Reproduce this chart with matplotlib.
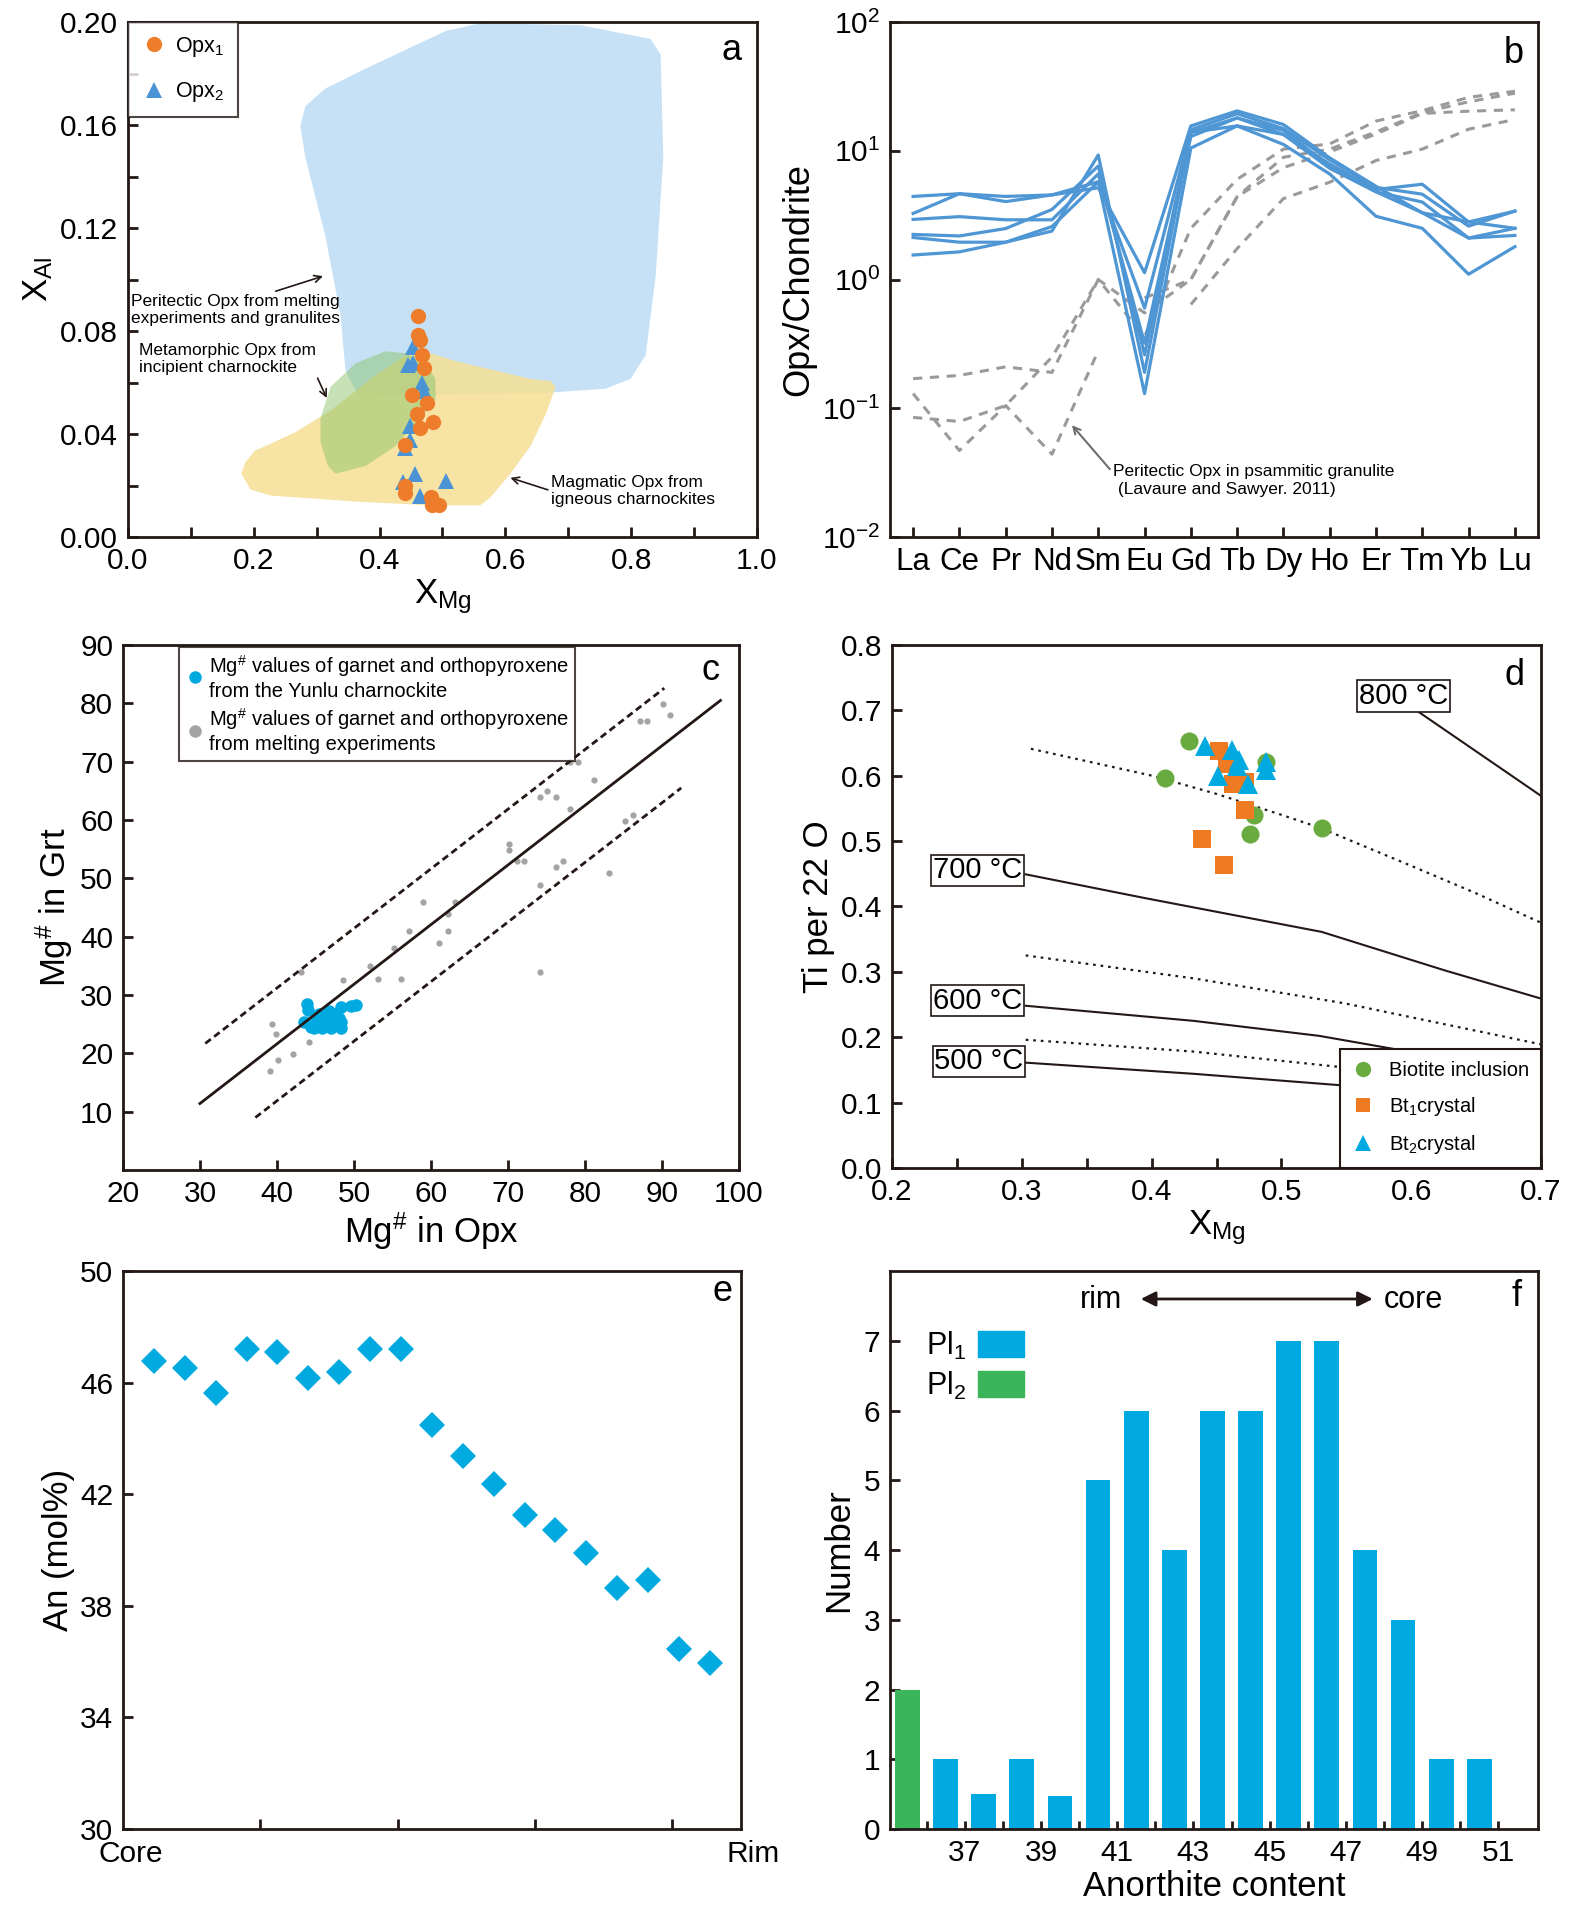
import matplotlib
matplotlib.use('Agg')
import matplotlib.pyplot as plt
import numpy as np
from matplotlib import font_manager
from matplotlib.patches import Polygon, Patch
from matplotlib.lines import Line2D

names = {f.name for f in font_manager.fontManager.ttflist}
NARROW = 'Liberation Sans Narrow' if 'Liberation Sans Narrow' in names else 'Liberation Sans'
plt.rcParams['font.family'] = ['Liberation Sans', 'DejaVu Sans']
plt.rcParams['mathtext.fontset'] = 'custom'
plt.rcParams['mathtext.rm'] = 'Liberation Sans'
plt.rcParams['mathtext.it'] = 'Liberation Sans:italic'
plt.rcParams['mathtext.bf'] = 'Liberation Sans:bold'

# ---------------- panel a : X_Al vs X_Mg ----------------
peritectic_x = [0.282, 0.314, 0.378, 0.505, 0.560, 0.719, 0.831, 0.847, 0.851, 0.839, 0.823,
                0.799, 0.759, 0.664, 0.497, 0.425, 0.362, 0.346, 0.338, 0.314, 0.282, 0.274]
peritectic_y = [0.1673, 0.1742, 0.1819, 0.1965, 0.1995, 0.1988, 0.1934, 0.1873, 0.1474, 0.1013, 0.0706,
                0.0614, 0.0576, 0.0560, 0.0553, 0.0545, 0.0568, 0.0645, 0.0860, 0.1167, 0.1474, 0.1597]
magmatic_x = [0.203, 0.187, 0.180, 0.195, 0.227, 0.362, 0.481, 0.560, 0.576, 0.608, 0.640,
              0.664, 0.680, 0.672, 0.640, 0.521, 0.481, 0.441, 0.386, 0.322, 0.266, 0.211]
magmatic_y = [0.0338, 0.0292, 0.0246, 0.0184, 0.0161, 0.0138, 0.0123, 0.0123, 0.0153, 0.0246, 0.0353,
              0.0476, 0.0583, 0.0606, 0.0614, 0.0683, 0.0714, 0.0706, 0.0614, 0.0491, 0.0407, 0.0345]
metamorphic_x = [0.306, 0.322, 0.362, 0.409, 0.441, 0.473, 0.489, 0.489, 0.465, 0.425, 0.378,
                 0.330, 0.318, 0.306]
metamorphic_y = [0.0461, 0.0583, 0.0675, 0.0721, 0.0714, 0.0675, 0.0614, 0.0537, 0.0460, 0.0353,
                 0.0276, 0.0246, 0.0276, 0.0368]

opx1_xmg = [0.461, 0.461, 0.465, 0.467, 0.470, 0.451, 0.475, 0.459, 0.485, 0.465, 0.441,
            0.440, 0.440, 0.481, 0.483, 0.495]
opx1_xal = [0.0860, 0.0786, 0.0767, 0.0706, 0.0657, 0.0553, 0.0519, 0.0476, 0.0445, 0.0422, 0.0356,
            0.0200, 0.0172, 0.0157, 0.0123, 0.0123]
opx2_xmg = [0.453, 0.445, 0.453, 0.467, 0.470, 0.448, 0.449, 0.441, 0.437, 0.457, 0.505, 0.465]
opx2_xal = [0.0737, 0.0668, 0.0675, 0.0599, 0.0568, 0.0430, 0.0376, 0.0345, 0.0215, 0.0246,
            0.0218, 0.0161]

# ---------------- panel b : REE patterns ----------------
ree = ['La', 'Ce', 'Pr', 'Nd', 'Sm', 'Eu', 'Gd', 'Tb', 'Dy', 'Ho', 'Er', 'Tm', 'Yb', 'Lu']
opx_ree = [
    [4.42, 4.64, 4.42, 4.54, 5.16, 1.13, 15.6, 20.4, 16.0, 8.8, 5.3, 3.3, 2.8, 2.5],
    [3.26, 4.64, 4.03, 4.54, 5.74, 0.60, 14.6, 19.4, 14.9, 8.5, 5.2, 4.6, 2.6, 3.4],
    [2.93, 3.08, 2.91, 2.91, 6.61, 0.32, 13.9, 18.0, 13.4, 7.9, 5.0, 5.5, 2.8, 3.4],
    [2.24, 2.18, 2.49, 3.50, 7.61, 0.26, 12.9, 18.0, 14.4, 7.6, 4.8, 3.3, 2.1, 2.2],
    [2.12, 1.95, 1.95, 2.38, 9.27, 0.19, 13.9, 15.6, 13.4, 7.3, 4.8, 4.0, 2.1, 2.5],
    [1.55, 1.64, 1.95, 2.58, 5.74, 0.13, 10.5, 15.6, 11.2, 6.6, 3.1, 2.5, 1.1, 1.8],
]
nan = np.nan
lit_ree = [
    [0.17, 0.18, 0.21, 0.19, 1.00, 0.36, 2.5, 6.0, 10.3, 11.3, 17.0, 20.5, 26.0, 29.0],
    [0.085, 0.079, 0.105, 0.25, 1.00, 0.55, 1.0, 4.4, 8.9, 10.3, 14.0, 19.8, 24.0, 28.0],
    [0.13, 0.047, 0.105, 0.044, 0.28, nan, nan, nan, nan, nan, nan, nan, nan, nan],
    [nan, nan, nan, nan, nan, 0.72, 1.0, 4.4, 7.4, 9.8, 13.5, 19.5, 20.3, 20.8],
    [nan, nan, nan, nan, nan, nan, 0.64, 1.74, 4.25, 5.7, 8.4, 10.3, 14.7, 17.5],
]

# ---------------- panel c : Mg# Grt vs Opx ----------------
yunlu_opx = [43.85, 44.0, 43.5, 44.4, 45.1, 45.8, 46.4, 46.7, 47.3, 47.7, 48.3, 48.3, 48.3,
             49.6, 50.3, 44.8, 46.1, 45.4, 47.0, 48.0]
yunlu_grt = [28.4, 27.4, 25.3, 24.6, 25.6, 24.3, 26.0, 27.2, 25.0, 26.7, 24.3, 25.3, 27.9,
             28.1, 28.3, 24.3, 25.3, 26.7, 24.3, 26.0]
exp_opx = [39.4, 39.9, 39.1, 40.2, 42.1, 43.1, 44.2, 48.6, 52.1, 53.1, 55.2, 56.1, 57.1, 59.0,
           61.1, 62.2, 62.2, 63.1, 70.1, 70.1, 71.2, 72.1, 74.2, 74.2, 74.2, 75.1, 76.2, 76.2,
           77.1, 78.1, 79.1, 78.1, 81.2, 83.1, 85.2, 86.2, 87.1, 88.1, 90.1, 91.1]
exp_grt = [25.1, 23.3, 17.0, 18.8, 19.9, 34.0, 21.9, 32.6, 35.0, 32.8, 38.0, 32.8, 40.9, 45.9,
           38.9, 40.9, 43.9, 45.9, 55.9, 54.9, 53.0, 53.0, 63.9, 48.9, 34.0, 64.9, 63.9, 51.9,
           53.0, 69.9, 69.9, 61.9, 66.9, 50.9, 59.9, 60.9, 77.0, 77.0, 79.9, 78.0]
fit_x, fit_y = [30.0, 97.6], [11.4, 80.5]
upper_x, upper_y = [30.7, 90.3], [21.7, 82.6]
lower_x, lower_y = [37.2, 92.5], [9.0, 65.5]

# ---------------- panel d : Ti vs X_Mg in biotite ----------------
iso800_x, iso800_y = [0.606, 0.70], [0.697, 0.569]
dot_hi_x = [0.307, 0.40, 0.45, 0.50, 0.53, 0.60, 0.65, 0.70]
dot_hi_y = [0.641, 0.600, 0.572, 0.540, 0.520, 0.462, 0.420, 0.375]
iso700_x = [0.303, 0.394, 0.531, 0.626, 0.70]
iso700_y = [0.449, 0.413, 0.361, 0.302, 0.259]
dot_mid_x = [0.303, 0.432, 0.548, 0.70]
dot_mid_y = [0.325, 0.290, 0.252, 0.189]
iso600_x = [0.303, 0.432, 0.529, 0.641, 0.70]
iso600_y = [0.248, 0.225, 0.202, 0.163, 0.140]
dot_lo_x = [0.303, 0.432, 0.542, 0.62]
dot_lo_y = [0.196, 0.178, 0.155, 0.145]
iso500_x = [0.303, 0.432, 0.542, 0.62]
iso500_y = [0.161, 0.144, 0.127, 0.118]
iso_labels = ['800 °C', '700 °C', '600 °C', '500 °C']
iso_label_x = [0.594, 0.266, 0.266, 0.267]
iso_label_y = [0.722, 0.455, 0.256, 0.163]

incl_xmg = [0.429, 0.410, 0.488, 0.479, 0.476, 0.531]
incl_ti = [0.653, 0.597, 0.621, 0.540, 0.511, 0.520]
bt1_xmg = [0.452, 0.458, 0.463, 0.472, 0.472, 0.439, 0.456]
bt1_ti = [0.637, 0.618, 0.587, 0.590, 0.548, 0.503, 0.463]
bt2_xmg = [0.441, 0.462, 0.467, 0.466, 0.451, 0.474, 0.488, 0.488]
bt2_ti = [0.645, 0.639, 0.624, 0.614, 0.600, 0.587, 0.621, 0.608]

# ---------------- panel e : An profile ----------------
an_profile = [46.79, 46.52, 45.62, 47.22, 47.09, 46.17, 46.40, 47.22, 47.22, 44.50,
              43.36, 42.35, 41.27, 40.73, 39.90, 38.64, 38.92, 36.46, 35.96]

# ---------------- panel f : histogram ----------------
an_bins = [35.5, 36.5, 37.5, 38.5, 39.5, 40.5, 41.5, 42.5, 43.5, 44.5, 45.5, 46.5, 47.5,
           48.5, 49.5, 50.5]
pl1_count = [0, 1, 0.5, 1, 0.48, 5, 6, 4, 6, 6, 7, 7, 4, 3, 1, 1]
pl2_count = [2, 0, 0, 0, 0, 0, 0, 0, 0, 0, 0, 0, 0, 0, 0, 0]

C_ORANGE = '#ee7d2b'
C_BLUE_A = '#4a94d6'
C_CYAN = '#00a9e0'
C_GREEN = '#6aab3f'
C_REE = '#4f96d5'
C_GRAY = '#9a9a9a'
C_INK = '#231815'

TICK = 21.5
LAB = 25


def style(ax):
    for s in ax.spines.values():
        s.set_linewidth(2)
        s.set_color(C_INK)
    ax.tick_params(which='both', direction='in', length=7, width=2, labelsize=TICK,
                   top=False, right=False, pad=7, color=C_INK)


fig = plt.figure(figsize=(15.76, 19.14), dpi=100)
ax_a = fig.add_axes([0.0812, 0.7194, 0.3991, 0.2691])
ax_b = fig.add_axes([0.5647, 0.7194, 0.4112, 0.2691])
ax_c = fig.add_axes([0.0780, 0.3887, 0.3909, 0.2743])
ax_d = fig.add_axes([0.5660, 0.3898, 0.4118, 0.2733])
ax_e = fig.add_axes([0.0780, 0.0444, 0.3921, 0.2915])
ax_f = fig.add_axes([0.5647, 0.0444, 0.4112, 0.2915])

# ---- a ----
ax = ax_a
ax.add_patch(Polygon(np.column_stack([peritectic_x, peritectic_y]), closed=True,
                     facecolor='#c6e1f5', edgecolor='none', zorder=1))
ax.add_patch(Polygon(np.column_stack([magmatic_x, magmatic_y]), closed=True,
                     facecolor='#f6df94', edgecolor='none', alpha=0.85, zorder=2))
ax.add_patch(Polygon(np.column_stack([metamorphic_x, metamorphic_y]), closed=True,
                     facecolor='#8cc56c', edgecolor='none', alpha=0.5, zorder=3))
ax.plot(opx1_xmg, opx1_xal, 'o', ms=11, color=C_ORANGE, mew=0, zorder=5, label='Opx$_1$')
ax.plot(opx2_xmg, opx2_xal, '^', ms=11.5, color=C_BLUE_A, mew=0, zorder=4, label='Opx$_2$')
ax.set_xlim(0, 1)
ax.set_ylim(0, 0.2)
ax.set_xticks(np.arange(0, 1.01, 0.2))
ax.set_xticks(np.arange(0.1, 1.0, 0.2), minor=True)
ax.set_yticks(np.arange(0, 0.201, 0.04))
ax.set_yticks(np.arange(0.02, 0.2, 0.04), minor=True)
ax.xaxis.set_major_formatter(matplotlib.ticker.FormatStrFormatter('%.1f'))
ax.yaxis.set_major_formatter(matplotlib.ticker.FormatStrFormatter('%.2f'))
style(ax)
ax.set_xlabel(r'X$_{\mathrm{Mg}}$', fontsize=LAB, labelpad=2)
ax.set_ylabel(r'X$_{\mathrm{Al}}$', fontsize=LAB, labelpad=4)
leg = ax.legend(loc='upper left', bbox_to_anchor=(0, 1), borderaxespad=0, fontsize=15.5,
                fancybox=False, edgecolor=C_INK, handletextpad=0.4, labelspacing=1.0,
                borderpad=0.6, handlelength=1.2)
leg.get_frame().set_linewidth(1.5)
ax.annotate('Peritectic Opx from melting\nexperiments and granulites', xy=(0.310, 0.1013),
            xytext=(0.005, 0.0881), fontsize=12.5, family=NARROW, va='center', ha='left',
            arrowprops=dict(arrowstyle='->', color=C_INK, lw=1.2, shrinkA=0, shrinkB=0,
                            relpos=(0.65, 1.0)))
ax.annotate('Metamorphic Opx from\nincipient charnockite', xy=(0.316, 0.0540),
            xytext=(0.018, 0.0691), fontsize=12.5, family=NARROW, va='center', ha='left',
            arrowprops=dict(arrowstyle='->', color=C_INK, lw=1.2, shrinkA=0, shrinkB=0,
                            relpos=(1.0, 0.0)))
ax.annotate('Magmatic Opx from\nigneous charnockites', xy=(0.608, 0.0230),
            xytext=(0.672, 0.0180), fontsize=12.5, family=NARROW, va='center', ha='left',
            arrowprops=dict(arrowstyle='->', color=C_INK, lw=1.2, shrinkA=0, shrinkB=0,
                            relpos=(0.0, 0.5)))
ax.text(0.96, 0.944, 'a', transform=ax.transAxes, fontsize=26, ha='center', va='center')

# ---- b ----
ax = ax_b
xi = np.arange(len(ree))
for row in lit_ree:
    ax.plot(xi, row, color=C_GRAY, lw=2.2, ls=(0, (3, 2.5)), zorder=2)
for row in opx_ree:
    ax.plot(xi, row, color=C_REE, lw=2.3, zorder=3)
ax.set_yscale('log')
ax.set_ylim(1e-2, 1e2)
ax.set_xlim(-0.5, 13.5)
ax.set_xticks(xi)
ax.set_xticklabels(ree)
ax.set_yticks([1e-2, 1e-1, 1, 10, 100])
ax.set_yticklabels([r'10$^{-2}$', r'10$^{-1}$', r'10$^{0}$', r'10$^{1}$', r'10$^{2}$'])
ax.yaxis.set_minor_locator(matplotlib.ticker.NullLocator())
style(ax)
ax.tick_params(axis='x', labelsize=22.5)
ax.set_ylabel('Opx/Chondrite', fontsize=26, labelpad=4)
ax.annotate('Peritectic Opx in psammitic granulite\n (Lavaure and Sawyer. 2011)',
            xy=(3.43, 0.074), xytext=(4.31, 0.0275), fontsize=12.5, family=NARROW,
            va='center', ha='left',
            arrowprops=dict(arrowstyle='->', color='#6d6d6d', lw=1.5, shrinkA=0, shrinkB=0,
                            relpos=(0.0, 0.75)))
ax.text(0.963, 0.939, 'b', transform=ax.transAxes, fontsize=26, ha='center', va='center')

# ---- c ----
ax = ax_c
ax.plot(exp_opx, exp_grt, 'o', ms=4.5, color='#a3a3a3', mew=0, zorder=2)
ax.plot(yunlu_opx, yunlu_grt, 'o', ms=9, color=C_CYAN, mew=0, zorder=3)
ax.plot(fit_x, fit_y, color=C_INK, lw=2, zorder=4)
ax.plot(upper_x, upper_y, color=C_INK, lw=2, ls=(0, (2.5, 1.5)), zorder=4)
ax.plot(lower_x, lower_y, color=C_INK, lw=2, ls=(0, (2.5, 1.5)), zorder=4)
ax.set_xlim(20, 100)
ax.set_ylim(0, 90)
ax.set_xticks(np.arange(20, 101, 10))
ax.set_yticks(np.arange(10, 91, 10))
style(ax)
ax.set_xlabel(r'Mg$^{\#}$ in Opx', fontsize=LAB, labelpad=2)
ax.set_ylabel(r'Mg$^{\#}$ in Grt', fontsize=LAB, labelpad=4)
handles = [Line2D([], [], ls='none', marker='o', ms=9, color=C_CYAN, mew=0),
           Line2D([], [], ls='none', marker='o', ms=9, color='#a3a3a3', mew=0)]
leg = ax.legend(handles, [r'Mg$^{\#}$ values of garnet and orthopyroxene' + '\nfrom the Yunlu charnockite',
                          r'Mg$^{\#}$ values of garnet and orthopyroxene' + '\nfrom melting experiments'],
                loc='upper left', bbox_to_anchor=(0.091, 0.997), borderaxespad=0,
                fancybox=False, edgecolor=C_INK, handletextpad=0.2, handlelength=1.0,
                labelspacing=0.3, borderpad=0.3, prop={'family': NARROW, 'size': 14.5})
leg.get_frame().set_linewidth(1.5)
ax.text(0.954, 0.951, 'c', transform=ax.transAxes, fontsize=26, ha='center', va='center')

# ---- d ----
ax = ax_d
dot = (0, (1.2, 2.2))
ax.plot(iso800_x, iso800_y, color=C_INK, lw=1.5)
ax.plot(dot_hi_x, dot_hi_y, color=C_INK, lw=1.6, ls=dot)
ax.plot(iso700_x, iso700_y, color=C_INK, lw=1.5)
ax.plot(dot_mid_x, dot_mid_y, color=C_INK, lw=1.6, ls=dot)
ax.plot(iso600_x, iso600_y, color=C_INK, lw=1.5)
ax.plot(dot_lo_x, dot_lo_y, color=C_INK, lw=1.6, ls=dot)
ax.plot(iso500_x, iso500_y, color=C_INK, lw=1.5)
for lab, lx, ly in zip(iso_labels, iso_label_x, iso_label_y):
    ax.text(lx, ly, lab, fontsize=21, ha='center', va='center',
            bbox=dict(boxstyle='square,pad=0.06', facecolor='white', edgecolor=C_INK, lw=1.2))
ax.plot(incl_xmg, incl_ti, 'o', ms=13, color=C_GREEN, mew=0, zorder=5, label='Biotite inclusion')
ax.plot(bt1_xmg, bt1_ti, 's', ms=12.5, color='#ee7b22', mew=0, zorder=6, label='Bt$_1$crystal')
ax.plot(bt2_xmg, bt2_ti, '^', ms=14, color=C_CYAN, mew=0, zorder=7, label='Bt$_2$crystal')
ax.set_xlim(0.2, 0.7)
ax.set_ylim(0, 0.8)
ax.set_xticks(np.arange(0.2, 0.71, 0.1))
ax.set_xticks(np.arange(0.25, 0.7, 0.1), minor=True)
ax.set_yticks(np.arange(0, 0.81, 0.1))
ax.xaxis.set_major_formatter(matplotlib.ticker.FormatStrFormatter('%.1f'))
ax.yaxis.set_major_formatter(matplotlib.ticker.FormatStrFormatter('%.1f'))
style(ax)
ax.set_xlabel(r'X$_{\mathrm{Mg}}$', fontsize=LAB, labelpad=2)
ax.set_ylabel('Ti per 22 O', fontsize=LAB, labelpad=4)
leg = ax.legend(loc='lower right', borderaxespad=0, fancybox=False, framealpha=1,
                edgecolor=C_INK, handlelength=1.0, handletextpad=0.8, labelspacing=0.75,
                borderpad=0.6, prop={'family': NARROW, 'size': 14.5}, markerscale=0.85)
leg.get_frame().set_linewidth(1.5)
leg.set_zorder(10)
ax.text(0.959, 0.942, 'd', transform=ax.transAxes, fontsize=26, ha='center', va='center')

# ---- e ----
ax = ax_e
pos = np.arange(1, len(an_profile) + 1)
ax.plot(pos, an_profile, 'D', ms=13.5, color=C_CYAN, mew=0)
ax.set_xlim(0, 20)
ax.set_ylim(30, 50)
ax.set_xticks([20 * k / 4.5 for k in range(1, 5)])
ax.set_xticklabels([])
ax.set_yticks(np.arange(30, 51, 4))
style(ax)
ax.text(-0.04, -0.02, 'Core', transform=ax.transAxes, fontsize=21.5, ha='left', va='top')
ax.text(1.063, -0.02, 'Rim', transform=ax.transAxes, fontsize=21.5, ha='right', va='top')
ax.set_ylabel('An (mol%)', fontsize=LAB, labelpad=4)
ax.text(0.97, 0.964, 'e', transform=ax.transAxes, fontsize=26, ha='center', va='center')

# ---- f ----
ax = ax_f
ax.bar(an_bins, pl1_count, width=0.65, color=C_CYAN, label='Pl$_1$', zorder=2)
ax.bar(an_bins, pl2_count, width=0.65, color='#3bb55a', label='Pl$_2$', zorder=2)
ax.set_xlim(35.04, 52.04)
ax.set_ylim(0, 8)
ax.set_xticks(np.arange(37, 52, 2))
ax.set_xticks(np.arange(36, 52, 2), minor=True)
ax.set_yticks(np.arange(0, 8, 1))
style(ax)
ax.tick_params(axis='x', which='both', length=6)
ax.set_xlabel('Anorthite content', fontsize=LAB, labelpad=2)
ax.set_ylabel('Number', fontsize=LAB, labelpad=6)
leg = ax.legend(handles=[Patch(color=C_CYAN), Patch(color='#3bb55a')],
                labels=['Pl$_1$', 'Pl$_2$'], loc='upper left', bbox_to_anchor=(0.055, 0.895),
                borderaxespad=0, borderpad=0, frameon=False, markerfirst=False, fontsize=22,
                handlelength=1.5, handleheight=0.95, labelspacing=0.25, handletextpad=0.4)
ax.text(0.325, 0.948, 'rim', transform=ax.transAxes, fontsize=22, ha='center', va='center')
ax.text(0.808, 0.948, 'core', transform=ax.transAxes, fontsize=22, ha='center', va='center')
ax.annotate('', xy=(0.387, 0.95), xytext=(0.745, 0.95), xycoords='axes fraction',
            arrowprops=dict(arrowstyle='<|-|>', color=C_INK, lw=2, mutation_scale=22,
                            shrinkA=0, shrinkB=0))
ax.text(0.967, 0.954, 'f', transform=ax.transAxes, fontsize=26, ha='center', va='center')

fig.savefig('out.png', dpi=100)
